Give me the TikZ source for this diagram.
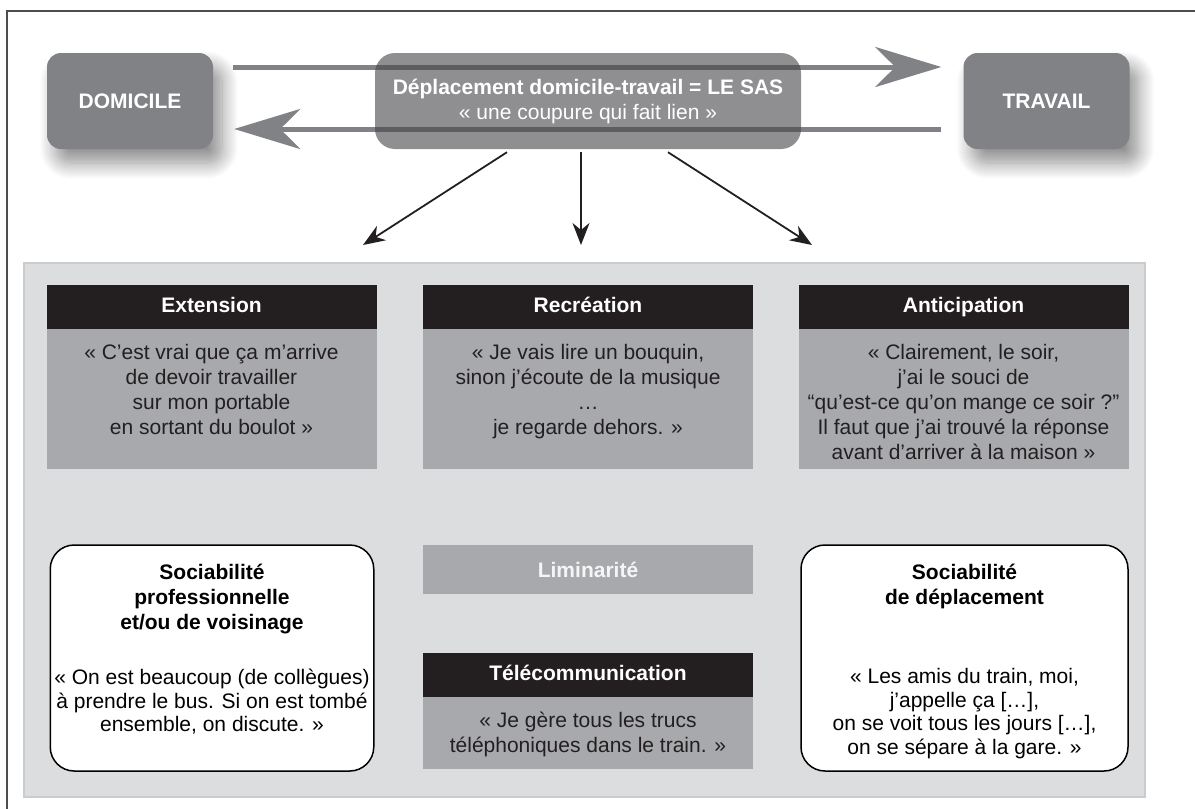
\documentclass[tikz,border=0pt]{standalone}
\usepackage{fontspec}
\setmainfont{Liberation Sans}
\usetikzlibrary{arrows.meta,positioning,shadows.blur}

\definecolor{framegray}{HTML}{4D4D4F}
\definecolor{placegray}{HTML}{808285}
\definecolor{sasgray}{HTML}{444548}
\definecolor{panelgray}{HTML}{DCDDDF}
\definecolor{paneledge}{HTML}{CBCCCE}
\definecolor{headblack}{HTML}{231F20}
\definecolor{bodygray}{HTML}{A7A9AC}

\tikzset{
  txt/.style={font=\fontsize{21}{25}\selectfont},
  place/.style={txt, fill=placegray, text=white, font=\fontsize{21}{25}\selectfont\bfseries,
    rounded corners=14pt, minimum width=166, minimum height=96, inner sep=0pt,
    blur shadow={shadow xshift=9pt, shadow yshift=-14pt, shadow blur radius=16pt,
      shadow blur steps=16, shadow opacity=45}},
  sas/.style={txt, fill=sasgray, fill opacity=0.6, text opacity=1, text=white, rounded corners=20pt,
    minimum width=426, minimum height=96, align=center, inner sep=0pt},
  grayarrow/.style={draw=placegray, line width=5pt, -{Stealth[length=66pt,width=40pt,inset=20pt]}},
  blackarrow/.style={draw=headblack, line width=1.8pt, -{Stealth[length=22pt,width=17pt,inset=7pt]}},
  headbox/.style={txt, fill=headblack, text=white, font=\fontsize{21}{25}\selectfont\bfseries,
    minimum width=330, minimum height=44, inner sep=0pt, text height=15pt, text depth=4pt},
  bodybox/.style={fill=bodygray, minimum width=330, inner sep=0pt},
  quote/.style={txt, text=headblack, align=center, anchor=north, inner sep=0pt},
  socbox/.style={draw=black, line width=1.5pt, fill=white, rounded corners=24pt,
    minimum height=226, inner sep=0pt},
  soctitle/.style={quote, text=black, font=\fontsize{21}{25}\selectfont\bfseries},
  socquote/.style={quote, text=black, font=\fontsize{21}{23.5}\selectfont},
  liminal/.style={txt, fill=bodygray, text=white!96!black, font=\fontsize{21}{25}\selectfont\bfseries,
    minimum width=330, minimum height=49, inner sep=0pt}
}

\begin{document}
\begin{tikzpicture}[x=1pt,y=-1pt]
  \useasboundingbox (0,0) rectangle (1195,809);
  \draw[framegray, line width=2pt] (7,809) -- (7,11) -- (1195,11);

  \node[place] (dom) at (130,101) {DOMICILE};
  \node[place] (trav) at (1046.5,101) {TRAVAIL};
  \draw[grayarrow] ([xshift=20pt,yshift=34pt]dom.east) -- ([xshift=-22pt,yshift=34pt]trav.west);
  \draw[grayarrow] ([xshift=-22pt,yshift=-28pt]trav.west) -- ([xshift=21pt,yshift=-28pt]dom.east);
  \node[sas] (sas) at (588,101) {\textbf{Déplacement domicile-travail = LE SAS}\\« une coupure qui fait lien »};

  \coordinate (tipL) at (363,245);
  \coordinate (tipM) at (581,245);
  \coordinate (tipR) at (812,245);
  \draw[blackarrow] ([xshift=-81pt,yshift=-3pt]sas.south) -- (tipL);
  \draw[blackarrow] ([xshift=-7pt,yshift=-3pt]sas.south) -- (tipM);
  \draw[blackarrow] ([xshift=80pt,yshift=-3pt]sas.south) -- (tipR);

  \draw[fill=panelgray, draw=paneledge, line width=1.5pt] (24,263) rectangle (1145,797);

  \node[headbox] (ext) at (211.5,307) {Extension};
  \node[bodybox, minimum height=140, below=0pt of ext] (extbody) {};
  \node[quote] at ([yshift=-15pt]extbody.north) {« C’est vrai que ça m’arrive\\de devoir travailler\\sur mon portable\\en sortant du boulot »};

  \node[headbox] (rec) at (588,307) {Recréation};
  \node[bodybox, minimum height=140, below=0pt of rec] (recbody) {};
  \node[quote] at ([yshift=-15pt]recbody.north) {« Je vais lire un bouquin,\\sinon j’écoute de la musique\\…\\je regarde dehors. »};

  \node[headbox] (anti) at (963.5,307) {Anticipation};
  \node[bodybox, minimum height=140, below=0pt of anti] (antibody) {};
  \node[quote] at ([yshift=-15pt]antibody.north) {« Clairement, le soir,\\j’ai le souci de\\“qu’est-ce qu’on mange ce soir ?”\\Il faut que j’ai trouvé la réponse\\avant d’arriver à la maison »};

  \node[liminal] (lim) at (588,569.5) {Liminarité};

  \node[headbox] (tele) at (588,675) {Télécommunication};
  \node[bodybox, minimum height=72, below=0pt of tele] (telebody) {};
  \node[quote] at ([yshift=-15pt]telebody.north) {« Je gère tous les trucs\\téléphoniques dans le train. »};

  \node[socbox, minimum width=323.5] (socl) at (212,658) {};
  \node[soctitle] at ([yshift=-20pt]socl.north) {Sociabilité\\professionnelle\\et/ou de voisinage};
  \node[socquote] at ([yshift=-125pt]socl.north) {« On est beaucoup (de collègues)\\à prendre le bus. Si on est tombé\\ensemble, on discute. »};

  \node[socbox, minimum width=327] (socr) at (964.5,658) {};
  \node[soctitle] at ([yshift=-20pt]socr.north) {Sociabilité\\de déplacement};
  \node[socquote] at ([yshift=-124pt]socr.north) {« Les amis du train, moi,\\j’appelle ça […],\\on se voit tous les jours […],\\on se sépare à la gare. »};
\end{tikzpicture}
\end{document}
